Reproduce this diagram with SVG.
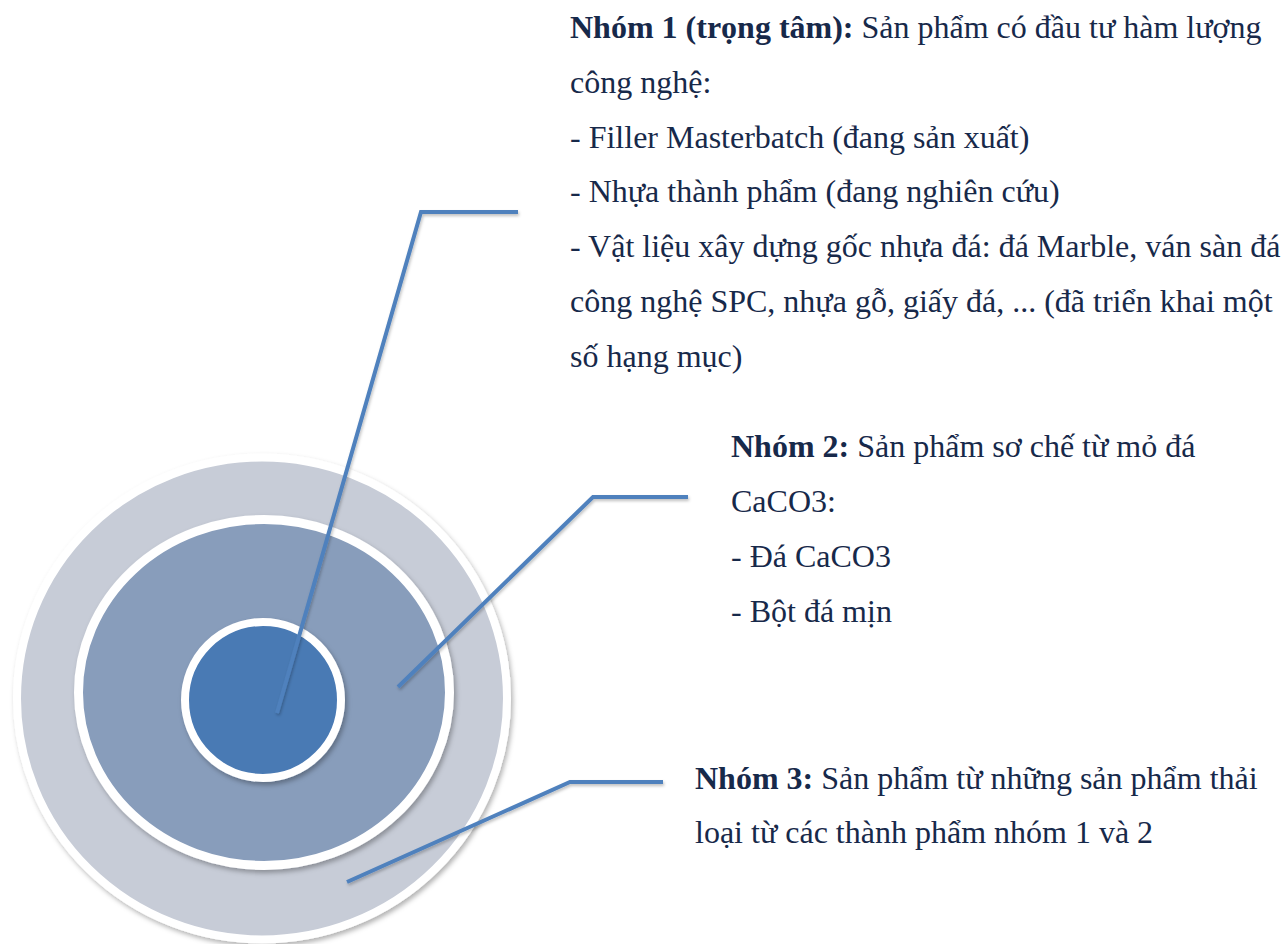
<svg xmlns="http://www.w3.org/2000/svg" width="1284" height="944" viewBox="0 0 1284 944">
<defs>
<filter id="sh" x="-10%" y="-10%" width="130%" height="130%">
<feDropShadow dx="2" dy="3" stdDeviation="2.5" flood-color="#000" flood-opacity="0.3"/>
</filter>
<filter id="lsh" x="-10%" y="-10%" width="130%" height="130%">
<feDropShadow dx="1" dy="2" stdDeviation="1.5" flood-color="#000" flood-opacity="0.25"/>
</filter>
</defs>
<style>
.ring{stroke:#ffffff}
.lead{fill:none;stroke:#4f81bd;stroke-width:4;stroke-linejoin:miter}
text{font-family:"Liberation Serif","Times New Roman",serif;font-size:32px;fill:#17294a}
.b{font-weight:bold}
</style>
<rect width="1284" height="944" fill="#ffffff"/>
<g id="outer-ring"><ellipse class="ring" cx="262" cy="698.5" rx="245" ry="241" fill="#c7ccd7" stroke-width="8" filter="url(#sh)"/></g>
<g id="middle-ring"><ellipse class="ring" cx="264" cy="692.5" rx="185.5" ry="173" fill="#889dbb" stroke-width="9" filter="url(#sh)"/></g>
<g id="inner-core"><circle class="ring" cx="263" cy="700" r="78" fill="#4a7ab4" stroke-width="8" filter="url(#sh)"/></g>
<g id="connectors" filter="url(#lsh)">
<polyline class="lead" points="277,713 421,212 518,212"/>
<polyline class="lead" points="398,687 593,497 688,497"/>
<polyline class="lead" points="347,882 570,782 663,782"/>
</g>
<g id="group1">
<text x="570" y="38"><tspan class="b">Nhóm 1 (trọng tâm):</tspan> Sản phẩm có đầu tư hàm lượng</text>
<text x="570" y="92.8">công nghệ:</text>
<text x="570" y="147.6">- Filler Masterbatch (đang sản xuất)</text>
<text x="570" y="202.4">- Nhựa thành phẩm (đang nghiên cứu)</text>
<text x="570" y="257.2">- Vật liệu xây dựng gốc nhựa đá: đá Marble, ván sàn đá</text>
<text x="570" y="312">công nghệ SPC, nhựa gỗ, giấy đá, ... (đã triển khai một</text>
<text x="570" y="366.8">số hạng mục)</text>
</g>
<g id="group2">
<text x="731" y="457"><tspan class="b">Nhóm 2:</tspan> Sản phẩm sơ chế từ mỏ đá</text>
<text x="731" y="512">CaCO3:</text>
<text x="731" y="567">- Đá CaCO3</text>
<text x="731" y="622">- Bột đá mịn</text>
</g>
<g id="group3">
<text x="695" y="789"><tspan class="b">Nhóm 3:</tspan> Sản phẩm từ những sản phẩm thải</text>
<text x="695" y="843">loại từ các thành phẩm nhóm 1 và 2</text>
</g>
</svg>
